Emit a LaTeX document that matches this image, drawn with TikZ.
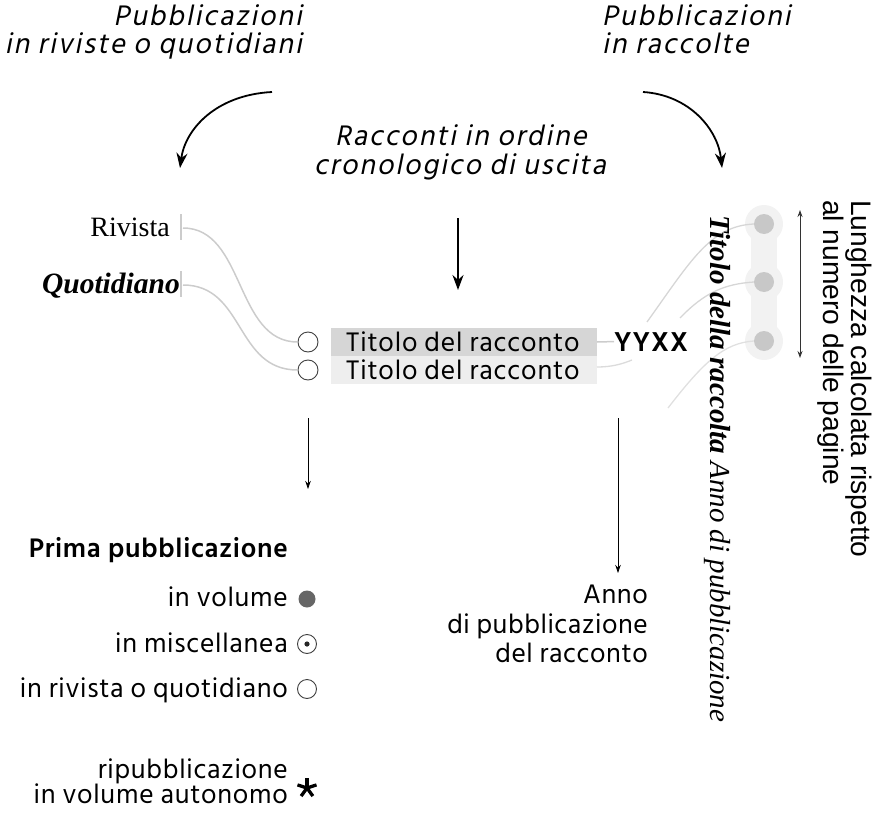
\documentclass[tikz,border=0pt]{standalone}
\usepackage{fontspec}
\setmainfont{Liberation Serif}
\newfontfamily\hindlab{Hind Siliguri}[LetterSpace=3]
\newfontfamily\hindleg{Hind Siliguri}[LetterSpace=2.6]
\newfontfamily\hindanno{Hind Siliguri}[LetterSpace=2]
\newfontfamily\hindbold{Hind Siliguri}[LetterSpace=2.5]
\newfontfamily\hindyy{Hind Siliguri}[LetterSpace=3.5]
\newfontfamily\hindit{Hind Siliguri}[FakeSlant=0.2, LetterSpace=6.8]
\newfontfamily\arialf{Liberation Sans}
\usetikzlibrary{arrows.meta}
\definecolor{curvegray}{HTML}{CCCCCC}
\definecolor{bardark}{HTML}{D6D6D6}
\definecolor{barlight}{HTML}{EEEEEE}
\definecolor{dotgray}{HTML}{C8C8C8}
\definecolor{pillgray}{HTML}{F2F2F2}
\definecolor{legdark}{HTML}{666666}
\tikzset{
  titlefont/.style={inner sep=0pt, font=\hindit\fontsize{29}{29}\selectfont},
  sansfont/.style={inner sep=0pt, font=\hindleg\fontsize{27.5}{30}\selectfont},
  annofont/.style={inner sep=0pt, font=\hindanno\fontsize{27.5}{30}\selectfont},
  labelfont/.style={inner sep=0pt, font=\hindlab\fontsize{27.5}{28}\selectfont},
  bigarrow/.style={line width=1.8pt, -{Stealth[length=15pt,width=11pt]}},
  thinarrow/.style={line width=0.8pt, -{Stealth[length=8pt,width=5.5pt]}},
  gcurve/.style={curvegray, line width=1.5pt},
  ocircle/.style={circle, draw=black!75, line width=0.9pt, minimum size=20pt, inner sep=0pt},
}
\begin{document}
\begin{tikzpicture}[x=1pt,y=-1pt]
\useasboundingbox (0,0) rectangle (876,816);

% top titles
\node[titlefont, anchor=base east] (tl1) at (302,26) {Pubblicazioni};
\node[titlefont, anchor=base east] (tl2) at (302,54) {in riviste o quotidiani};
\node[titlefont, anchor=base west] (tr1) at (602,26) {Pubblicazioni};
\node[titlefont, anchor=base west] (tr2) at (602,54) {in raccolte};
\node[titlefont, anchor=base] (tc1) at (461,145) {Racconti in ordine};
\node[titlefont, anchor=base] (tc2) at (460,174) {cronologico di uscita};

% top arrows
\coordinate (la0) at (272,92);
\coordinate (la1) at (180,168);
\coordinate (ra0) at (643,92);
\coordinate (ra1) at (722,168);
\draw[bigarrow] (la0) .. controls (215,95) and (185,130) .. (la1);
\draw[bigarrow] (ra0) .. controls (690,95) and (718,130) .. (ra1);
\coordinate (ca0) at (458,218);
\coordinate (ca1) at (458,290);
\draw[bigarrow] (ca0) -- (ca1);

% left labels
\node[inner sep=0pt, font=\fontsize{28}{30}\selectfont, anchor=base east] (riv) at (170,236) {Rivista};
\node[inner sep=0pt, font=\bfseries\itshape\fontsize{29.5}{30}\selectfont, anchor=base east] (quo) at (180,293) {Quotidiano};
\coordinate (rt0) at (181,214); \coordinate (rt1) at (181,240);
\coordinate (qt0) at (181,271); \coordinate (qt1) at (181,297);
\draw[curvegray, line width=1.2pt] (rt0) -- (rt1);
\draw[curvegray, line width=1.2pt] (qt0) -- (qt1);

% bars
\fill[bardark] (331,328) rectangle (597,356);
\fill[barlight] (331,356) rectangle (597,384);
\node[labelfont, anchor=base west] (t1) at (346,351) {Titolo del racconto};
\node[labelfont, anchor=base west] (t2) at (346,379) {Titolo del racconto};
\node[ocircle] (c1) at (308,342) {};
\node[ocircle] (c2) at (308,370) {};

% curves left
\coordinate (rc) at (183,228);
\coordinate (qc) at (183,285);
\draw[gcurve] (rc) .. controls (245,228) and (235,342) .. (c1.west);
\draw[gcurve] (qc) .. controls (245,285) and (235,370) .. (c2.west);

% YYXX
\node[inner sep=0pt, font=\hindyy\bfseries\fontsize{28}{30}\selectfont, anchor=base west] (yy) at (614,351) {YYXX};
\coordinate (b1e) at (597,342);
\coordinate (b2e) at (597,367);
\draw[gcurve] (b1e) -- (yy.west);
\coordinate (b2f) at (632,360);
\draw[curvegray!70, line width=1.3pt] (b2e) .. controls (612,367) and (622,364) .. (b2f);

% pill and dots
\fill[pillgray] (764,224) circle (19) (764,282) circle (19) (764,341) circle (19);
\fill[pillgray] (751,224) rectangle (777,341);
\node[circle, fill=dotgray, minimum size=20pt, inner sep=0pt] (d1) at (764,224) {};
\node[circle, fill=dotgray, minimum size=20pt, inner sep=0pt] (d2) at (764,282) {};
\node[circle, fill=dotgray, minimum size=20pt, inner sep=0pt] (d3) at (764,341) {};
\coordinate (l1s) at (647,322);
\coordinate (l2s) at (680,318);
\coordinate (l3s) at (668,408);
\draw[curvegray!80, line width=1.3pt] (l1s) .. controls (690,262) and (710,226) .. (d1.west);
\draw[curvegray!80, line width=1.3pt] (l2s) .. controls (705,292) and (725,284) .. (d2.west);
\draw[curvegray!60, line width=1.3pt] (l3s) .. controls (705,360) and (725,343) .. (d3.west);

% rotated serif text
\node[inner sep=0pt, rotate=-90, anchor=base west, font=\fontsize{29}{30}\selectfont] (rac) at (710,215) {\textbf{\textit{Titolo della raccolta}} \textit{Anno di pubblicazione}};

% double arrow and rotated note
\coordinate (da0) at (800,210);
\coordinate (da1) at (800,358);
\draw[black!80, line width=0.9pt, {Stealth[length=7pt,width=5pt]}-{Stealth[length=7pt,width=5pt]}] (da0) -- (da1);
\node[inner sep=0pt, rotate=-90, anchor=north west, align=left, font=\arialf\fontsize{28.2}{27.5}\selectfont] (lung) at (872,200) {Lunghezza calcolata rispetto\\al numero delle pagine};

% thin arrows
\coordinate (ta0) at (308,418); \coordinate (ta1) at (308,489);
\coordinate (tb0) at (618,418); \coordinate (tb1) at (618,573);
\draw[thinarrow] (ta0) -- (ta1);
\draw[thinarrow] (tb0) -- (tb1);

% anno di pubblicazione del racconto
\node[annofont, anchor=base east] (an1) at (648,603) {Anno};
\node[annofont, anchor=base east] (an2) at (648,633) {di pubblicazione};
\node[annofont, anchor=base east] (an3) at (648,662) {del racconto};

% legend
\node[inner sep=0pt, font=\hindbold\bfseries\fontsize{27.5}{30}\selectfont, anchor=base east] (prima) at (288,557) {Prima pubblicazione};
\node[sansfont, anchor=base east] (lv) at (288,606) {in volume};
\node[sansfont, anchor=base east] (lm) at (288,652) {in miscellanea};
\node[sansfont, anchor=base east] (lr) at (288,697) {in rivista o quotidiano};
\node[circle, fill=legdark, minimum size=17pt, inner sep=0pt] (cv) at (307,599) {};
\node[ocircle, minimum size=19pt] (cm) at (307,644) {};
\fill[black!85] (cm.center) circle (2.6);
\node[ocircle, minimum size=19pt] (cr) at (307,689) {};
\node[sansfont, anchor=base east] (rp1) at (288,778) {ripubblicazione};
\node[sansfont, anchor=base east] (rp2) at (288,803) {in volume autonomo};
\coordinate (ast) at (307,788);
\foreach \a in {90,18,162,-54,234} {
  \draw[line width=3.3pt, line cap=butt] (ast) -- ++({10*cos(\a)},{-10*sin(\a)});
}
\end{tikzpicture}
\end{document}
